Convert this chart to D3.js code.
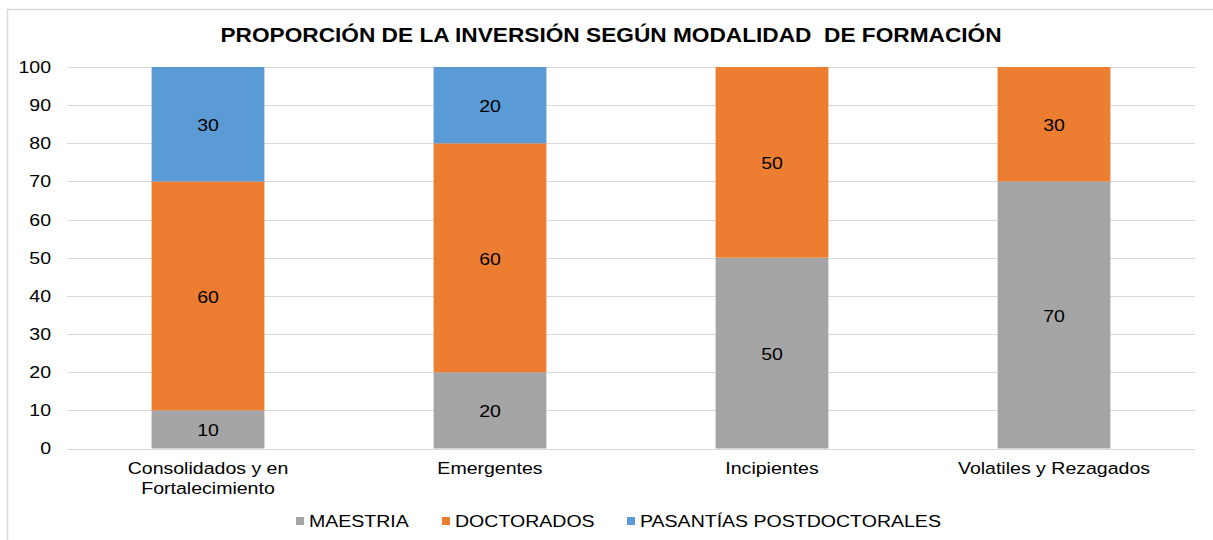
<!DOCTYPE html>
<html>
<head>
<meta charset="utf-8">
<script src="https://cdn.jsdelivr.net/npm/d3@7"></script>
<style>
  body { margin: 0; background: #fff; }
  svg { display: block; font-family: "Liberation Sans", Arial, sans-serif; }
  text { white-space: pre; }
</style>
</head>
<body>
<svg id="chart" width="1213" height="540"></svg>
<script>
const categories = ["Consolidados y en\nFortalecimiento", "Emergentes", "Incipientes", "Volatiles y Rezagados"];
const seriesNames = ["MAESTRIA", "DOCTORADOS", "PASANTÍAS POSTDOCTORALES"];
const maestria = [10, 20, 50, 70];
const doctorados = [60, 60, 50, 30];
const pasantias = [30, 20, 0, 0];
const yTicks = [0, 10, 20, 30, 40, 50, 60, 70, 80, 90, 100];
const colors = ["#a5a5a5", "#ed7d31", "#5b9bd5"];

const width = 1213, height = 540;
const margin = { top: 67, right: 18, bottom: 92, left: 67 };
const sx = 1.15; // text in the original is stretched horizontally
const svg = d3.select("#chart");

// chart frame
svg.append("rect")
  .attr("x", 7.5).attr("y", 9.5)
  .attr("width", 1220).attr("height", 540)
  .attr("fill", "none").attr("stroke", "#d9d9d9").attr("stroke-width", 1.5);

svg.append("text")
  .attr("transform", `translate(611,42) scale(1.08,1)`)
  .attr("text-anchor", "middle")
  .attr("font-size", 21).attr("font-weight", "bold")
  .attr("fill", "#000")
  .text("PROPORCIÓN DE LA INVERSIÓN SEGÚN MODALIDAD  DE FORMACIÓN");

const x = d3.scaleBand()
  .domain(categories)
  .range([margin.left, width - margin.right])
  .paddingInner(0.6).paddingOuter(0.3);

const y = d3.scaleLinear()
  .domain([0, 100])
  .range([height - margin.bottom + 0.5, margin.top]);

// gridlines
svg.append("g")
  .selectAll("line")
  .data(yTicks)
  .join("line")
    .attr("x1", margin.left).attr("x2", width - margin.right)
    .attr("y1", d => Math.round(y(d)) + 0.5).attr("y2", d => Math.round(y(d)) + 0.5)
    .attr("stroke", "#d9d9d9").attr("stroke-width", 1);

// y tick labels
svg.append("g")
  .selectAll("text")
  .data(yTicks)
  .join("text")
    .attr("transform", d => `translate(51,${y(d)}) scale(${sx},1)`)
    .attr("dy", "0.35em")
    .attr("text-anchor", "end")
    .attr("font-size", 17).attr("fill", "#000")
    .text(d => d);

const table = categories.map((c, i) => ({
  cat: c, MAESTRIA: maestria[i], DOCTORADOS: doctorados[i], "PASANTÍAS POSTDOCTORALES": pasantias[i]
}));
const stacked = d3.stack().keys(seriesNames)(table);

const layer = svg.append("g")
  .selectAll("g")
  .data(stacked)
  .join("g")
    .attr("fill", (d, i) => colors[i]);

layer.selectAll("rect")
  .data(d => d.filter(s => s[1] - s[0] > 0))
  .join("rect")
    .attr("x", d => x(d.data.cat))
    .attr("width", x.bandwidth())
    .attr("y", d => y(d[1]))
    .attr("height", d => y(d[0]) - y(d[1]));

layer.selectAll("text")
  .data(d => d.filter(s => s[1] - s[0] > 0))
  .join("text")
    .attr("transform", d => `translate(${x(d.data.cat) + x.bandwidth() / 2},${y((d[0] + d[1]) / 2) + 1}) scale(${sx},1)`)
    .attr("dy", "0.35em")
    .attr("text-anchor", "middle")
    .attr("font-size", 17).attr("fill", "#000")
    .text(d => d[1] - d[0]);

// category labels
svg.append("g")
  .selectAll("text")
  .data(categories)
  .join("text")
    .attr("transform", d => `translate(${x(d) + x.bandwidth() / 2},474) scale(${sx},1)`)
    .attr("text-anchor", "middle")
    .attr("font-size", 17).attr("fill", "#000")
    .selectAll("tspan")
    .data(d => d.split("\n"))
    .join("tspan")
      .attr("x", 0)
      .attr("dy", (d, i) => i === 0 ? 0 : 20)
      .text(d => d);

// legend
const legendX = [296, 442, 627];
const legend = svg.append("g")
  .selectAll("g")
  .data(seriesNames)
  .join("g")
    .attr("transform", (d, i) => `translate(${legendX[i]},521)`);
legend.append("rect")
  .attr("x", 0).attr("y", -4)
  .attr("width", 8).attr("height", 8)
  .attr("fill", (d, i) => colors[i]);
legend.append("text")
  .attr("transform", `translate(13,0) scale(${sx},1)`)
  .attr("dy", "0.35em")
  .attr("font-size", 17).attr("fill", "#000")
  .text(d => d);
</script>
</body>
</html>
